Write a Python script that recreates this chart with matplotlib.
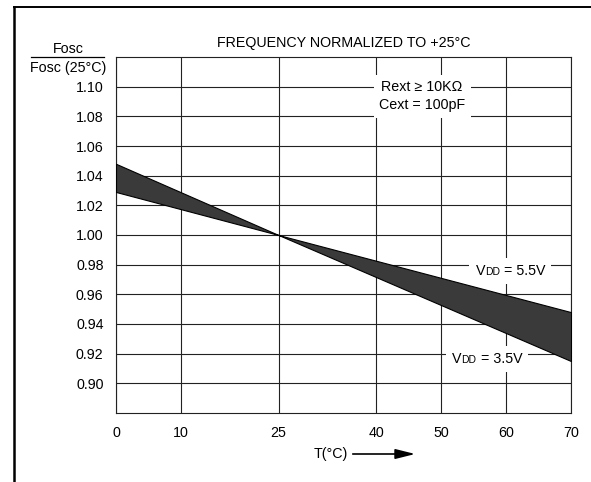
import matplotlib
matplotlib.use('Agg')
import matplotlib.pyplot as plt
from matplotlib.lines import Line2D
from matplotlib.patches import Rectangle
from matplotlib.transforms import Bbox

plt.rcParams['font.family'] = ['Liberation Sans', 'DejaVu Sans']

# data
temps = [0, 25, 70]
vdd35 = [1.048, 1.000, 0.915]   # VDD = 3.5V
vdd55 = [1.029, 1.000, 0.948]   # VDD = 5.5V
xticks = [0, 10, 25, 40, 50, 60, 70]
yticks = [0.90, 0.92, 0.94, 0.96, 0.98, 1.00, 1.02, 1.04, 1.06, 1.08, 1.10]

fig = plt.figure(figsize=(5.91, 4.82), dpi=100)
ax = fig.add_axes([0.1963, 0.1432, 0.7699, 0.7385])

gc = '#222222'
ax.set_xlim(0, 70)
ax.set_ylim(0.88, 1.12)
ax.set_xticks(xticks)
ax.set_yticks(yticks)
ax.set_yticklabels(['%.2f' % v for v in yticks])
ax.tick_params(length=0, labelsize=10.3)
ax.tick_params(axis='x', pad=9.5)
ax.tick_params(axis='y', pad=9)
ax.grid(True, color=gc, lw=0.8)
ax.set_axisbelow(True)
for s in ax.spines.values():
    s.set_color(gc)
    s.set_linewidth(0.8)

ax.fill_between(temps, vdd35, vdd55, facecolor='#3a3a3a', edgecolor='black',
                lw=0.8, zorder=3)

ax.set_title('FREQUENCY NORMALIZED TO +25°C', fontsize=10.3, pad=7)

# parameter note
ax.text(47.1, 1.0935, 'Rext ≥ 10KΩ\nCext = 100pF', ha='center', va='center',
        fontsize=10.3, linespacing=1.35, zorder=4,
        bbox=dict(facecolor='white', edgecolor='none', pad=4))


def vdd_label(x, y, val):
    t1 = ax.text(x, y, 'V', fontsize=10.3, ha='left', va='baseline', zorder=5)
    t2 = ax.annotate('DD', xy=(1, y), xycoords=(t1, 'data'), fontsize=7.5,
                     va='baseline', ha='left', zorder=5)
    t3 = ax.annotate(' = %sV' % val, xy=(1, y), xycoords=(t2, 'data'),
                     fontsize=10.3, va='baseline', ha='left', zorder=5)
    return [t1, t2, t3]


labels = [vdd_label(55.3, 0.9727, '5.5'), vdd_label(51.7, 0.9135, '3.5')]

# white patch behind each VDD label so the grid is broken there
fig.canvas.draw()
r = fig.canvas.get_renderer()
for parts in labels:
    bb = Bbox.union([p.get_window_extent(r) for p in parts])
    bb = bb.padded(6)
    (x0, y0), (x1, y1) = ax.transData.inverted().transform(bb.get_points())
    ax.add_patch(Rectangle((x0, y0), x1 - x0, y1 - y0, facecolor='white',
                           edgecolor='none', zorder=2))

# y label as a fraction
fig.text(68 / 591, 1 - 49 / 482, 'Fosc', ha='center', va='center', fontsize=10.3)
fig.text(68 / 591, 1 - 68 / 482, 'Fosc (25°C)', ha='center', va='center', fontsize=10.3)
fig.add_artist(Line2D([31 / 591, 104 / 591], [1 - 57 / 482, 1 - 57 / 482],
                      color='black', lw=0.9))

# x label with arrow
fig.text(331 / 591, 1 - 454 / 482, 'T(°C)', ha='center', va='center', fontsize=10.3)
fig.add_artist(Line2D([353 / 591, 402 / 591], [1 - 454 / 482, 1 - 454 / 482],
                      color='black', lw=1.2))
ax.annotate('', xy=(418 / 591, 1 - 454 / 482), xycoords='figure fraction',
            xytext=(398 / 591, 1 - 454 / 482), textcoords='figure fraction',
            arrowprops=dict(arrowstyle='-|>,head_length=1.2,head_width=0.3',
                            color='black', lw=1.2))

# page frame (top and left edges of the scanned box)
fig.add_artist(Line2D([14 / 591, 1.0], [1 - 7 / 482, 1 - 7 / 482], color='black', lw=1.4))
fig.add_artist(Line2D([14 / 591, 14 / 591], [0.0, 1 - 7 / 482], color='black', lw=1.8))

fig.savefig('out.png', dpi=100)
